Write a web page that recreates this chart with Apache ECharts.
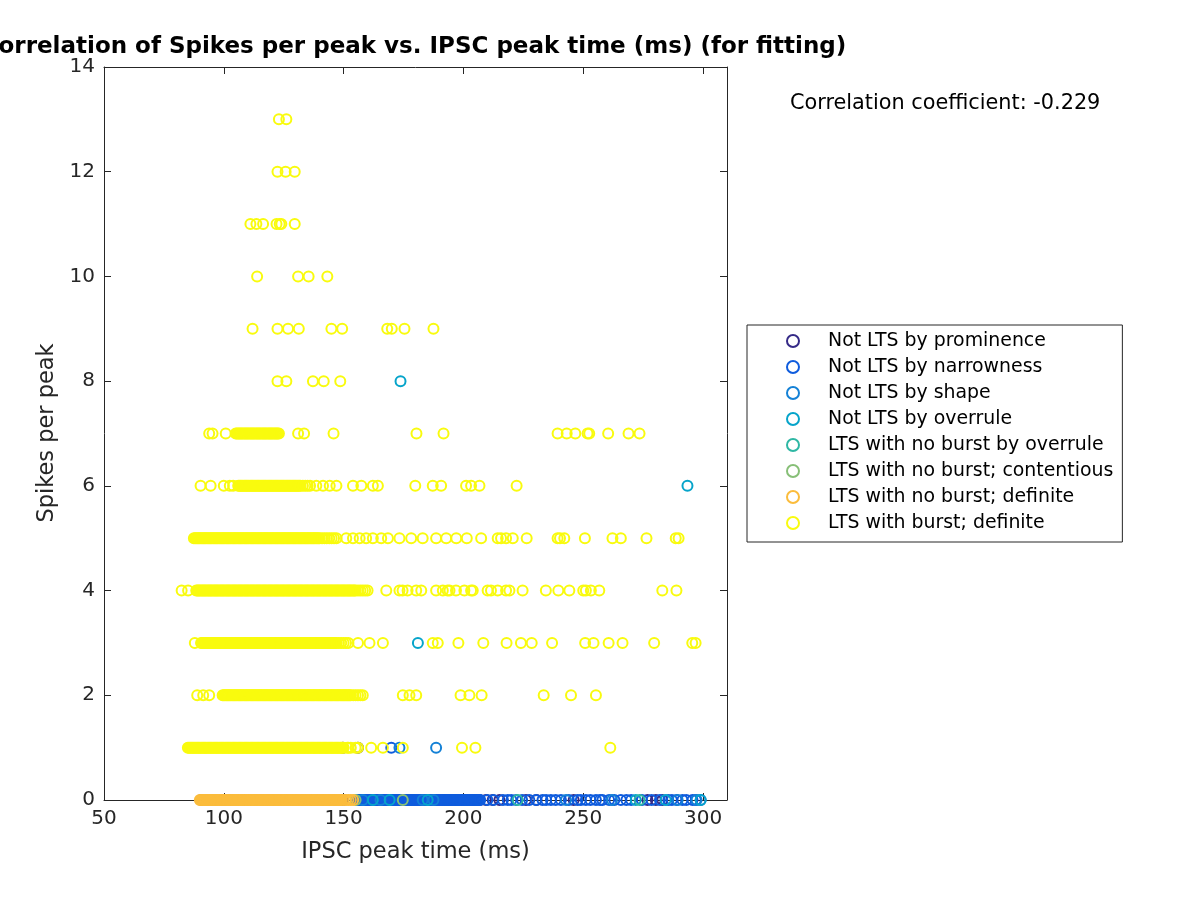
<!DOCTYPE html>
<html>
<head>
<meta charset="utf-8">
<script src="https://cdn.jsdelivr.net/npm/echarts@6/dist/echarts.min.js"></script>
<style>html,body{margin:0;padding:0;background:#fff}#chart{width:1200px;height:900px}</style>
</head>
<body>
<div id="chart"></div>
<script>
// ---------- DATA ----------
const chartTitle = 'Correlation of Spikes per peak vs. IPSC peak time (ms) (for fitting)';
const xAxisTitle = 'IPSC peak time (ms)';
const yAxisTitle = 'Spikes per peak';
const corrText = 'Correlation coefficient: -0.229';
const xTickValues = [50, 100, 150, 200, 250, 300];
const yTickValues = [0, 2, 4, 6, 8, 10, 12, 14];
const seriesNames = ['Not LTS by prominence','Not LTS by narrowness','Not LTS by shape','Not LTS by overrule',
  'LTS with no burst by overrule','LTS with no burst; contentious','LTS with no burst; definite','LTS with burst; definite'];
const seriesColors = ['#352A87','#0F5CDD','#1481D6','#06A4CA','#2EB7A4','#87BF77','#FBBC3C','#F9FB0E'];

// Not LTS by prominence
const promX = [90.7,95.3,99.7,103.2,149.7,206.7,209.4,212.2,215,226.1,230.5,246,276.8,280.3,283, 149.7,156];
const promY = [0,0,0,0,0,0,0,0,0,0,0,0,0,0,0, 1,1];
// Not LTS by narrowness (0 spikes) plus one at 1 spike
const narr0X = [156,156.5,157,157.5,158,158.5,159,159.5,160,160.5,161,161.5,162,162.5,163,163.5,164,164.5,165,165.5,166,166.5,167,167.5,168,168.5,169,169.5,170,170.5,171,171.5,172,172.5,173,173.5,174,174.5,175,175.5,176,176.5,177,177.5,178,178.5,179,179.5,180,180.5,181,181.5,182,182.5,183,183.5,184,184.5,185,185.5,186,186.5,187,187.5,188,188.5,189,189.5,190,190.5,191,191.5,192,192.5,193,193.5,194,194.5,195,195.5,196,196.5,197,197.5,198,198.5,199,199.5,200,200.5,201,201.5,202,202.5,203,203.5,204,204.5,205,205.5,206,206.5,207,
  210,212.5,216.5,218.5,220,222,224.5,227.5,230.3,233,234.5,236.5,238.5,240.7,244,247.6,249,251.1,253,255.3,257,258,260.8,263,265.7,268,270,274.5,278.5,282,285.5,287,289,291.4,293,295.6,297,299];
const narr1X = [169.9];
// Not LTS by shape
const shapeX = [158,165.4,183,187.5,242.8,262,289.4,297.3, 173.3,188.6];
const shapeY = [0,0,0,0,0,0,0,0, 1,1];
// Not LTS by overrule
const overX = [162.2,169.2,185.1,271.9,284.4,299, 181, 293.5, 173.75];
const overY = [0,0,0,0,0,0, 3, 6, 8];
// LTS with no burst by overrule
const nbOverX = [222.6,273.5];
const nbOverY = [0,0];
// LTS with no burst; contentious
const contX = [155,174.7];
const contY = [0,0];
// LTS with no burst; definite (all at 0 spikes)
const nbDefX = [90,90.5,91,91.5,92,92.5,93,93.5,94,94.5,95,95.5,96,96.5,97,97.5,98,98.5,99,99.5,100,100.5,101,101.5,102,102.5,103,103.5,104,104.5,105,105.5,106,106.5,107,107.5,108,108.5,109,109.5,110,110.5,111,111.5,112,112.5,113,113.5,114,114.5,115,115.5,116,116.5,117,117.5,118,118.5,119,119.5,120,120.5,121,121.5,122,122.5,123,123.5,124,124.5,125,125.5,126,126.5,127,127.5,128,128.5,129,129.5,130,130.5,131,131.5,132,132.5,133,133.5,134,134.5,135,135.5,136,136.5,137,137.5,138,138.5,139,139.5,140,140.5,141,141.5,142,142.5,143,143.5,144,144.5,145,145.5,146,146.5,147,147.5,148,148.5,149,150,151,152,153,154];
// LTS with burst; definite : x values for each spikes-per-peak level
const burst1 = [85,85.5,86,86.5,87,87.5,88,88.5,89,89.5,90,90.5,91,91.5,92,92.5,93,93.5,94,94.5,95,95.5,96,96.5,97,97.5,98,98.5,99,99.5,100,100.5,101,101.5,102,102.5,103,103.5,104,104.5,105,105.5,106,106.5,107,107.5,108,108.5,109,109.5,110,110.5,111,111.5,112,112.5,113,113.5,114,114.5,115,115.5,116,116.5,117,117.5,118,118.5,119,119.5,120,120.5,121,121.5,122,122.5,123,123.5,124,124.5,125,125.5,126,126.5,127,127.5,128,128.5,129,129.5,130,130.5,131,131.5,132,132.5,133,133.5,134,134.5,135,135.5,136,136.5,137,137.5,138,138.5,139,139.5,140,140.5,141,141.5,142,142.5,143,143.5,144,144.5,145,145.5,146,146.5,147,147.5,148,148.5,149,149.5,150,151.5,152,153,155,156,161.5,166.4,174.7,199.4,205,261.3];
const burst2 = [88.9,91.4,93.9,99.5,100,100.5,101,101.5,102,102.5,103,103.5,104,104.5,105,105.5,106,106.5,107,107.5,108,108.5,109,109.5,110,110.5,111,111.5,112,112.5,113,113.5,114,114.5,115,115.5,116,116.5,117,117.5,118,118.5,119,119.5,120,120.5,121,121.5,122,122.5,123,123.5,124,124.5,125,125.5,126,126.5,127,127.5,128,128.5,129,129.5,130,130.5,131,131.5,132,132.5,133,133.5,134,134.5,135,135.5,136,136.5,137,137.5,138,138.5,139,139.5,140,140.5,141,141.5,142,142.5,143,143.5,144,144.5,145,145.5,146,146.5,147,147.5,148,148.5,149,149.5,150,150.5,151,151.5,152,152.5,153,154,155,156,157,158,174.7,177.5,180.3,198.8,202.5,207.6,233.5,244.9,255.3];
const burst3 = [87.9,90.5,91,91.5,92,92.5,93,93.5,94,94.5,95,95.5,96,96.5,97,97.5,98,98.5,99,99.5,100,100.5,101,101.5,102,102.5,103,103.5,104,104.5,105,105.5,106,106.5,107,107.5,108,108.5,109,109.5,110,110.5,111,111.5,112,112.5,113,113.5,114,114.5,115,115.5,116,116.5,117,117.5,118,118.5,119,119.5,120,120.5,121,121.5,122,122.5,123,123.5,124,124.5,125,125.5,126,126.5,127,127.5,128,128.5,129,129.5,130,130.5,131,131.5,132,132.5,133,133.5,134,134.5,135,135.5,136,136.5,137,137.5,138,138.5,139,139.5,140,140.5,141,141.5,142,142.5,143,143.5,144,144.5,145,145.5,146,146.5,147,148,149,150,151,152,156,160.8,166.4,187.2,189.3,197.9,208.3,218,224,228.5,237,250.8,254.3,260.6,266.4,279.6,295.5,296.9];
const burst4 = [82.4,85.1,88.5,89,89.5,90,90.5,91,91.5,92,92.5,93,93.5,94,94.5,95,95.5,96,96.5,97,97.5,98,98.5,99,99.5,100,100.5,101,101.5,102,102.5,103,103.5,104,104.5,105,105.5,106,106.5,107,107.5,108,108.5,109,109.5,110,110.5,111,111.5,112,112.5,113,113.5,114,114.5,115,115.5,116,116.5,117,117.5,118,118.5,119,119.5,120,120.5,121,121.5,122,122.5,123,123.5,124,124.5,125,125.5,126,126.5,127,127.5,128,128.5,129,129.5,130,130.5,131,131.5,132,132.5,133,133.5,134,134.5,135,135.5,136,136.5,137,137.5,138,138.5,139,139.5,140,140.5,141,141.5,142,142.5,143,143.5,144,144.5,145,145.5,146,146.5,147,147.5,148,148.5,149,149.5,150,150.5,151,151.5,152,152.5,153,153.5,154,154.5,155,156,157,158,159,160,167.8,173.3,174.6,176.7,180.3,182.4,188.6,191.4,193.4,194.2,196.9,200.4,203.2,203.9,210.1,211.5,214.3,217.8,219.2,224.7,234.4,239.6,244.2,250,251.1,253.2,256.7,283,288.9];
const burst5 = [87.5,88,88.5,89,89.5,90,90.5,91,91.5,92,92.5,93,93.5,94,94.5,95,95.5,96,96.5,97,97.5,98,98.5,99,99.5,100,100.5,101,101.5,102,102.5,103,103.5,104,104.5,105,105.5,106,106.5,107,107.5,108,108.5,109,109.5,110,110.5,111,111.5,112,112.5,113,113.5,114,114.5,115,115.5,116,116.5,117,117.5,118,118.5,119,119.5,120,120.5,121,121.5,122,122.5,123,123.5,124,124.5,125,125.5,126,126.5,127,127.5,128,128.5,129,129.5,130,130.5,131,131.5,132,132.5,133,133.5,134,134.5,135,135.5,136,136.5,137,137.5,138,138.5,139,139.5,140,141,142,143,144,145,146,147,151.1,153.9,156.7,159.4,162.2,165.7,168.5,173.3,178.2,183,188.6,192.8,197,201.4,207.4,214.3,215.7,217.8,220.6,226.4,239.3,240.3,242.1,250.7,262.2,265.7,276.4,288.6,289.8];
const burst6 = [90.3,94.5,100,102.5,103.9,106,106.5,107,107.5,108,108.5,109,109.5,110,110.5,111,111.5,112,112.5,113,113.5,114,114.5,115,115.5,116,116.5,117,117.5,118,118.5,119,119.5,120,120.5,121,121.5,122,122.5,123,123.5,124,124.5,125,125.5,126,126.5,127,127.5,128,128.5,129,129.5,130,130.5,131,131.5,132,133,134,135,136,138.6,141.4,144.2,147,153.9,157.4,162.2,164.3,179.9,187.2,190.7,201.1,203.2,206.7,222.2];
const burst7 = [93.9,95.3,100.8,105,105.5,106,106.5,107,107.5,108,108.5,109,109.5,110,110.5,111,111.5,112,112.5,113,113.5,114,114.5,115,115.5,116,116.5,117,117.5,118,118.5,119,119.5,120,120.5,121,121.5,122,122.5,123,131,133.5,145.8,180.4,191.7,239.3,243.1,246.7,251.8,252.5,260.4,268.9,273.5];
const burst8 = [122.4,126.1,137.2,141.7,148.6];
const burst9 = [112,122.4,126.8,131.3,144.9,149.4,168.2,170.1,175.4,187.5];
const burst10 = [113.9,131,135.4,143.2];
const burst11 = [111.1,113.6,116.4,122,123.3,124,129.6];
const burst12 = [122.4,125.8,129.6];
const burst13 = [123,126.1];
const burstLevels = [1,2,3,4,5,6,7,8,9,10,11,12,13];
const burstRows = [burst1,burst2,burst3,burst4,burst5,burst6,burst7,burst8,burst9,burst10,burst11,burst12,burst13];

// ---------- BUILD ----------
function pairs(xs, ys){ return xs.map((x,i)=>[x, ys[i]]); }
const burstData = [];
burstRows.forEach((xs, i) => xs.forEach(x => burstData.push([x, burstLevels[i]])));
const narrData = narr0X.map(x => [x, 0]).concat(narr1X.map(x => [x, 1]));
const datasets = [
  pairs(promX, promY), narrData, pairs(shapeX, shapeY), pairs(overX, overY),
  pairs(nbOverX, nbOverY), pairs(contX, contY), nbDefX.map(x => [x, 0]), burstData
];

const FONT = '"DejaVu Sans", "Liberation Sans", sans-serif';
const AX = '#262626';
const plotLeft = 104, plotRight = 727, plotTop = 67, plotBottom = 800;

const chart = echarts.init(document.getElementById('chart'), null, {renderer: 'canvas'});

const series = seriesNames.map((n, i) => ({
  type: 'scatter', name: n, data: datasets[i],
  symbol: 'circle', symbolSize: 10,
  itemStyle: {color: 'rgba(0,0,0,0)', borderColor: seriesColors[i], borderWidth: 2, opacity: 1},
  emphasis: {disabled: true},
  xAxisIndex: 0, yAxisIndex: 0, silent: true
}));

const tickFmtX = v => xTickValues.indexOf(v) >= 0 ? String(v) : '';
const baseX = {type: 'value', min: 50, max: 310, interval: 50, splitLine: {show: false},
  axisLine: {show: true, onZero: false, lineStyle: {color: AX, width: 1}},
  axisTick: {show: true, inside: true, length: 7, lineStyle: {color: AX}}};
const baseY = {type: 'value', min: 0, max: 14, interval: 2, splitLine: {show: false},
  axisLine: {show: true, onZero: false, lineStyle: {color: AX, width: 1}},
  axisTick: {show: true, inside: true, length: 7, lineStyle: {color: AX}}};

chart.setOption({
  animation: false,
  backgroundColor: '#fff',
  grid: {left: plotLeft, right: 1200 - plotRight, top: plotTop, bottom: 900 - plotBottom, containLabel: false},
  xAxis: [
    Object.assign({}, baseX, {position: 'bottom',
      axisLabel: {show: true, formatter: tickFmtX, color: AX, fontSize: 20, fontFamily: FONT, margin: 9}}),
    Object.assign({}, baseX, {position: 'top', axisLabel: {show: false}})
  ],
  yAxis: [
    Object.assign({}, baseY, {position: 'left',
      axisLabel: {show: true, formatter: v => yTickValues.indexOf(v) >= 0 ? String(v) : '', color: AX, fontSize: 20, fontFamily: FONT, margin: 9}}),
    Object.assign({}, baseY, {position: 'right', axisLabel: {show: false}})
  ],
  legend: {
    orient: 'vertical', left: 747, top: 325,
    padding: [3, 9, 6, 39], itemGap: 0, itemWidth: 60, itemHeight: 12,
    borderColor: AX, borderWidth: 1, backgroundColor: '#fff',
    selectedMode: false,
    textStyle: {color: '#000', fontSize: 18.9, fontFamily: FONT, lineHeight: 26, padding: [0,0,0,0]},
    data: seriesNames.map((n, i) => ({name: n, icon: 'circle',
      itemStyle: {color: 'rgba(0,0,0,0)', borderColor: seriesColors[i], borderWidth: 2}}))
  },
  graphic: [
    {type: 'text', x: 414, y: 47, silent: true,
      style: {text: chartTitle, fill: '#000', font: 'bold 23px ' + FONT, align: 'center', verticalAlign: 'middle'}},
    {type: 'text', x: 415.5, y: 852, silent: true,
      style: {text: xAxisTitle, fill: AX, font: '22.5px ' + FONT, align: 'center', verticalAlign: 'middle'}},
    {type: 'text', x: 47, y: 433, rotation: Math.PI / 2, silent: true,
      style: {text: yAxisTitle, fill: AX, font: '22.5px ' + FONT, align: 'center', verticalAlign: 'middle'}},
    {type: 'text', x: 790, y: 104, silent: true,
      style: {text: corrText, fill: '#000', font: '20.8px ' + FONT, align: 'left', verticalAlign: 'middle'}}
  ],
  series: series
});
</script>
</body>
</html>
